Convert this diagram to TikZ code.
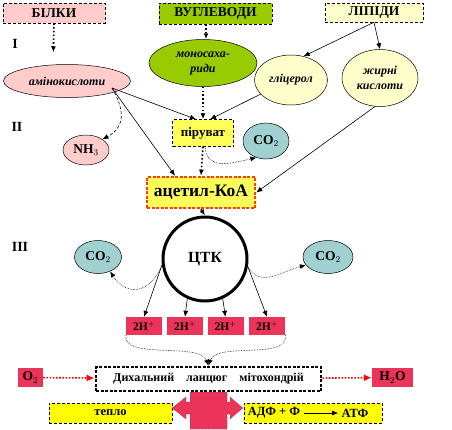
\documentclass[tikz,border=0pt]{standalone}
\usepackage{fontspec}
\setmainfont{Liberation Serif}
\usetikzlibrary{positioning,arrows.meta,shapes.geometric}

\definecolor{pinkbg}{RGB}{255,204,204}
\definecolor{limebg}{RGB}{153,204,0}
\definecolor{paleyel}{RGB}{255,255,204}
\definecolor{yelbg}{RGB}{255,255,90}
\definecolor{purey}{RGB}{255,255,0}
\definecolor{bluebg}{RGB}{160,208,208}
\definecolor{redbg}{RGB}{236,52,90}
\definecolor{acetred}{RGB}{255,60,0}

\begin{document}
\begin{tikzpicture}[x=1pt, y=-1pt,
      font=\fontsize{12.5}{14}\selectfont\bfseries, >={Latex[length=6pt,width=5pt]},
      hdr/.style={draw, densely dashed, inner sep=0pt, font=\fontsize{13.5}{15}\selectfont\bfseries},
      oval/.style={ellipse, draw, line width=0.5pt, inner sep=0pt, align=center,
                   font=\fontsize{12}{15}\selectfont\bfseries\itshape},
      gas/.style={ellipse, draw, line width=0.5pt, fill=bluebg, inner sep=0pt, font=\fontsize{13.5}{14}\selectfont\bfseries},
      hbox/.style={fill=redbg, inner sep=0pt, minimum width=36pt, minimum height=18pt, font=\fontsize{11.5}{12}\selectfont\bfseries},
      ybox/.style={draw, densely dashed, fill=purey, inner sep=0pt, minimum height=20pt},
      ar/.style={->, line width=0.6pt},
      dar/.style={->, line width=1.6pt, dash pattern=on 1.6pt off 2.2pt},
      thn/.style={->, line width=0.6pt, densely dotted},
      rar/.style={->, line width=1.6pt, dash pattern=on 1.6pt off 1.6pt, draw=red, >={Latex[length=8pt,width=7pt]}},
      rom/.style={font=\fontsize{14}{16}\selectfont\bfseries}
    ]
    \useasboundingbox (0,0) rectangle (452,429);

    % ===== sources (top row) =====
    \node[hdr, fill=pinkbg,  minimum width=102pt, minimum height=20pt] (bilky)  at (54,13)   {БІЛКИ};
    \node[hdr, fill=limebg,  minimum width=113pt, minimum height=21pt] (vuhl)   at (215.5,13.5) {ВУГЛЕВОДИ};
    \node[hdr, fill=paleyel, minimum width=98pt,  minimum height=19pt] (lipidy) at (374,12.5) {ЛІПІДИ};

    % stage numbers
    \node[rom] (r1) at (15,44)  {I};
    \node[rom] (r2) at (17,127) {II};
    \node[rom] (r3) at (20,247) {III};

    % ===== stage I =====
    \node[oval, fill=pinkbg,  minimum width=127pt, minimum height=33pt] (amino) at (67,81)  {амінокислоти};
    \node[oval, fill=limebg,  minimum width=108pt, minimum height=47pt] (mono)  at (203,63) {моносаха-\\риди};
    \node[oval, fill=paleyel, minimum width=73pt,  minimum height=50pt] (glic)  at (291,80) {гліцерол};
    \node[oval, fill=paleyel, minimum width=76pt,  minimum height=57pt] (fatty) at (380,78) {жирні\\кислоти};
    \coordinate (ajoin) at (112,88);

    \draw[dar, shorten >=12pt] (bilky.south) -- ([xshift=-14pt]amino.north);
    \draw[dar] ([xshift=3pt]vuhl.south -| mono.north) -- ([xshift=3pt]mono.north);
    \draw[ar] (lipidy.south) -- (glic.62);
    \draw[ar] (lipidy.south) -- (fatty.north);

    % ===== stage II =====
    \node[draw, densely dashed, fill=yelbg, minimum width=61pt, minimum height=27pt, inner sep=0pt,
          font=\fontsize{13}{14}\selectfont\bfseries] (piruv) at (203,133) {піруват};
    \node[gas, minimum width=46pt, minimum height=36pt] (co2a) at (266,141) {CO$_2$};
    \node[oval, fill=pinkbg, minimum width=46pt, minimum height=30pt,
          font=\fontsize{13.5}{14}\selectfont\bfseries] (nh3) at (86,150) {NH$_3$};
    \node[draw=acetred, line width=2.6pt, dash pattern=on 3pt off 1.5pt, fill=yelbg,
          minimum width=108pt, minimum height=31pt, inner sep=0pt,
          font=\fontsize{17.5}{18}\selectfont\bfseries] (acet) at (201,192.5) {ацетил-КоА};

    \draw[ar] (ajoin) -- ([xshift=-7pt]piruv.north);
    \draw[ar] (ajoin) -- ([xshift=-26pt]acet.north);
    \draw[->, line width=0.6pt, densely dashed] (ajoin) .. controls (126,112) and (124,128) .. (nh3.north east);
    \draw[dar] (mono.south) -- (piruv.north);
    \draw[ar] (glic.205) -- ([xshift=7pt]piruv.north);
    \draw[ar] (fatty.-100) -- (acet.east);
    \draw[dar] (piruv.south) -- (acet.north);
    \draw[thn] ([xshift=2pt]piruv.south) .. controls (207,170) and (228,164) .. (co2a.240);

    % ===== stage III =====
    \node[circle, draw, line width=3pt, fill=white, minimum size=84pt, inner sep=0pt,
          font=\fontsize{15.5}{16}\selectfont\bfseries] (tck) at (205,259) {ЦТК};
    \node[gas, minimum width=47pt, minimum height=33pt] (co2b) at (98,257)  {CO$_2$};
    \node[gas, minimum width=50pt, minimum height=33pt] (co2c) at (328,257) {CO$_2$};
    \node[hbox] (h1) at (144,326)   {2H$^+$};
    \node[hbox] (h2) at (185,326)   {2H$^+$};
    \node[hbox] (h3) at (225.5,326) {2H$^+$};
    \node[hbox] (h4) at (267,326)   {2H$^+$};

    \draw[dar] (acet.south) -- (tck.north);
    \draw[thn] (tck.188) .. controls (150,295) and (126,296) .. (co2b.-50);
    \draw[thn] (tck.-10) .. controls (260,288) and (280,272) .. (co2c.200);
    \draw[ar] (tck.188) -- (h1.north);
    \draw[ar] (tck.246) -- (h2.north);
    \draw[ar] (tck.294) -- (h3.north);
    \draw[ar] (tck.-10) -- (h4.north);

    % ===== respiratory chain =====
    \node[draw, line width=2.6pt, dash pattern=on 3pt off 1.5pt, fill=white,
          minimum width=225pt, minimum height=24pt, inner sep=0pt,
          font=\fontsize{12}{13}\selectfont\bfseries] (chain) at (208.5,379) {Дихальний\ \ \ \ ланцюг\ \ \ \ мітохондрій};
    \node[hbox, minimum width=25pt, minimum height=19pt, font=\fontsize{13.5}{14}\selectfont\bfseries] (o2) at (30.5,377.5) {O$_2$};
    \node[hbox, minimum width=41pt, minimum height=19pt, font=\fontsize{13.5}{14}\selectfont\bfseries] (h2o) at (392.5,377.5) {H$_2$O};

    \draw[thn] (h1.south west) .. controls (122,360) and (200,342) .. (chain.north);
    \draw[thn] (h4.south east) .. controls (290,360) and (216,342) .. (chain.north);
    \draw[rar] (o2) -- (chain);
    \draw[rar] (chain) -- (h2o);

    % ===== energy output =====
    \node[ybox, minimum width=123pt] (teplo) at (110.5,413) {тепло};
    \node[ybox, minimum width=138pt] (atfbox) at (313,413) {};
    \node (adf) at (274,413) {АДФ + Ф};
    \node (atf) at (355,413) {АТФ};
    \draw[ar] (adf) -- (atf);

    \filldraw[fill=redbg, draw=black!70, densely dotted, line width=0.5pt]
      (190,392) -- (227,392) -- (227,402) -- (230,402) -- (230,397) -- (243,408)
      -- (230,419) -- (230,414) -- (227,414) -- (227,429) -- (190,429) -- (190,414)
      -- (186,414) -- (186,419) -- (172,408) -- (186,397) -- (186,402) -- (190,402) -- cycle;
    \end{tikzpicture}
\end{document}
